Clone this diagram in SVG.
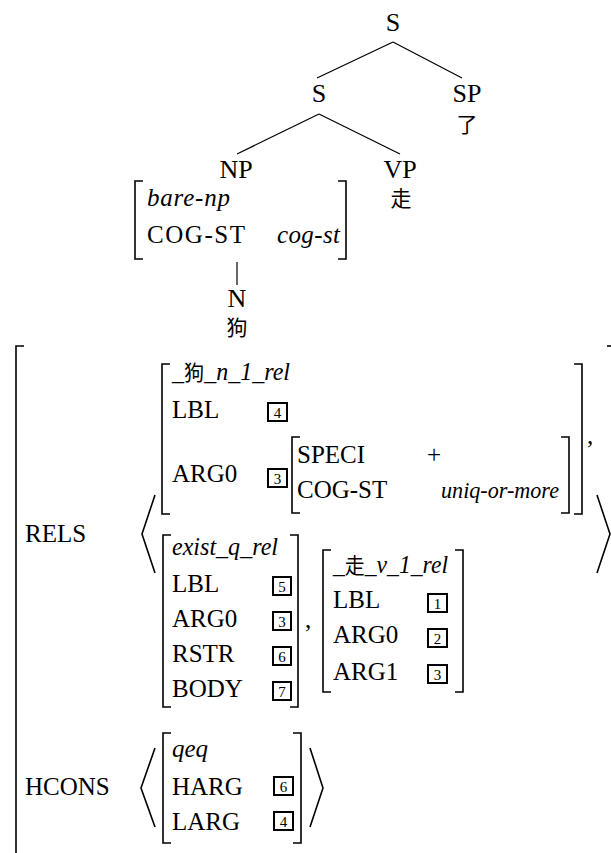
<svg xmlns="http://www.w3.org/2000/svg" width="611" height="853" viewBox="0 0 611 853" font-family="'Liberation Serif', 'DejaVu Serif', serif">
<style>
text{font-family:'Liberation Serif','DejaVu Serif',serif;fill:#000}
.t{font-size:26px;text-anchor:middle}
.a{font-size:25px}
.i{font-style:italic}
.cj{font-family:'Noto Sans CJK SC','Noto Sans CJK JP',sans-serif;font-size:21px}
.br{fill:none;stroke:#000;stroke-width:1.6}
.ln{fill:none;stroke:#000;stroke-width:1.2}
.box{fill:none;stroke:#000;stroke-width:2}
.d{font-size:15px;text-anchor:middle}
</style>
<rect width="611" height="853" fill="#fff"/>
<g id="connectors">
<line class="ln" x1="393" y1="42" x2="317" y2="78"/>
<line class="ln" x1="393" y1="42" x2="462" y2="78"/>
<line class="ln" x1="319" y1="114" x2="237" y2="154"/>
<line class="ln" x1="319" y1="114" x2="400" y2="154"/>
<line class="ln" x1="237" y1="262" x2="237" y2="285"/>
</g>
<g id="node-S-root"><text class="t" x="393" y="31">S</text></g>
<g id="node-S"><text class="t" x="319" y="102">S</text></g>
<g id="node-SP"><text class="t" x="467" y="102">SP</text><text class="cj" x="467" y="132" text-anchor="middle">了</text></g>
<g id="node-NP"><text class="t" x="236" y="178">NP</text>
<path class="br" d="M143,181 H135 V259 H143"/>
<path class="br" d="M338,181 H346 V259 H338"/>
<text class="a i" x="147" y="206" textLength="83">bare-np</text>
<text class="a" x="147" y="243" textLength="98">COG-ST</text>
<text class="a i" x="277" y="243" textLength="63">cog-st</text>
</g>
<g id="node-VP"><text class="t" x="400" y="178">VP</text><text class="cj" x="401" y="206" text-anchor="middle">走</text></g>
<g id="node-N"><text class="t" x="237" y="307">N</text><text class="cj" x="237" y="335" text-anchor="middle">狗</text></g>
<g id="mrs">
<path class="br" d="M24,346 H16 V853"/>
<path class="br" d="M607,346 H611"/>
<text class="a" x="25" y="542">RELS</text>
<path class="br" d="M155,495 L142,534 L155,573"/>
<path class="br" d="M597,495 L610,534 L597,573"/>
<g id="rel-dog">
<path class="br" d="M170,364 H162 V514 H170"/>
<path class="br" d="M574,364 H582 V514 H574"/>
<text class="a i" x="172" y="380" textLength="118" lengthAdjust="spacingAndGlyphs">_<tspan class="cj" font-style="normal">狗</tspan>_n_1_rel</text>
<text class="a" x="172" y="418">LBL</text>
<rect class="box" x="268" y="403" width="19" height="18"/><text class="d" x="277.5" y="418">4</text>
<text class="a" x="172" y="482">ARG0</text>
<rect class="box" x="268" y="469" width="19" height="18"/><text class="d" x="277.5" y="484">3</text>
<path class="br" d="M300,437 H292 V513 H300"/>
<path class="br" d="M561,437 H569 V513 H561"/>
<text class="a" x="297" y="463">SPECI</text>
<text class="a" x="427" y="463">+</text>
<text class="a" x="297" y="498">COG-ST</text>
<text class="i" x="441" y="498" font-size="23" textLength="118" lengthAdjust="spacingAndGlyphs">uniq-or-more</text>
<text class="a" x="587" y="444">,</text>
</g>
<g id="rel-exist">
<path class="br" d="M171,535 H163 V707 H171"/>
<path class="br" d="M290,535 H298 V707 H290"/>
<text class="a i" x="172" y="555" textLength="106" lengthAdjust="spacingAndGlyphs">exist_q_rel</text>
<text class="a" x="172" y="592">LBL</text>
<rect class="box" x="273" y="577" width="18" height="18"/><text class="d" x="282" y="592">5</text>
<text class="a" x="172" y="627">ARG0</text>
<rect class="box" x="273" y="612" width="18" height="18"/><text class="d" x="282" y="627">3</text>
<text class="a" x="172" y="662">RSTR</text>
<rect class="box" x="273" y="647" width="18" height="18"/><text class="d" x="282" y="662">6</text>
<text class="a" x="172" y="697">BODY</text>
<rect class="box" x="273" y="682" width="18" height="18"/><text class="d" x="282" y="697">7</text>
<text class="a" x="305" y="628">,</text>
</g>
<g id="rel-walk">
<path class="br" d="M331,550 H323 V692 H331"/>
<path class="br" d="M455,550 H463 V692 H455"/>
<text class="a i" x="333" y="573" textLength="115" lengthAdjust="spacingAndGlyphs">_<tspan class="cj" font-style="normal">走</tspan>_v_1_rel</text>
<text class="a" x="333" y="608">LBL</text>
<rect class="box" x="428" y="594" width="19" height="18"/><text class="d" x="437.5" y="609">1</text>
<text class="a" x="333" y="643">ARG0</text>
<rect class="box" x="428" y="629" width="19" height="18"/><text class="d" x="437.5" y="644">2</text>
<text class="a" x="333" y="680">ARG1</text>
<rect class="box" x="428" y="665" width="19" height="18"/><text class="d" x="437.5" y="680">3</text>
</g>
<text class="a" x="25" y="795">HCONS</text>
<path class="br" d="M155,748 L141,788 L155,827"/>
<path class="br" d="M310,748 L323,788 L310,827"/>
<g id="hcons-qeq">
<path class="br" d="M171,733 H163 V843 H171"/>
<path class="br" d="M293,733 H301 V843 H293"/>
<text class="a i" x="172" y="757">qeq</text>
<text class="a" x="172" y="795">HARG</text>
<rect class="box" x="274" y="777" width="19" height="18"/><text class="d" x="283.5" y="792">6</text>
<text class="a" x="172" y="830">LARG</text>
<rect class="box" x="274" y="812" width="19" height="18"/><text class="d" x="283.5" y="827">4</text>
</g>
</g>
</svg>
